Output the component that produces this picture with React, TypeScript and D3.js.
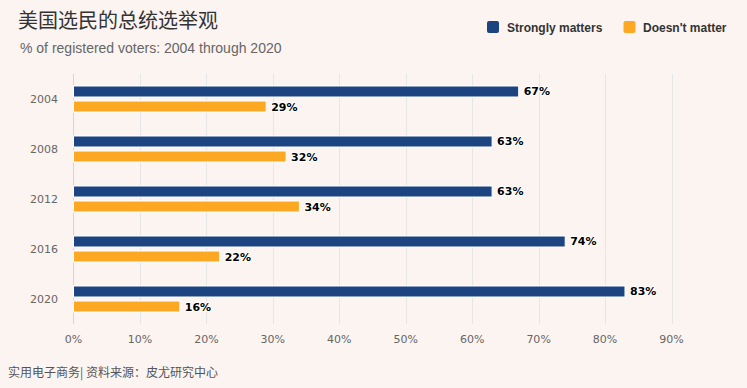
import React, { useEffect } from 'react';
import * as d3 from 'd3';

// chart data
const years = ['2004', '2008', '2012', '2016', '2020'];
const seriesNames = ['Strongly matters', "Doesn't matter"];
const stronglyMatters = [67, 63, 63, 74, 83];
const doesntMatter = [29, 32, 34, 22, 16];
const xTicks = [0, 10, 20, 30, 40, 50, 60, 70, 80, 90];
const colors = ['#1b4480', '#fca822'];

const title = '美国选民的总统选举观';
const subtitle = '% of registered voters: 2004 through 2020';
const footer = '实用电子商务| 资料来源：皮尤研究中心';

const width = 747;
const height = 388;

export default function App() {
  useEffect(() => {
    document.body.style.margin = '0';
  }, []);

  var x = d3.scaleLinear().domain([0, 90]).range([73.5, 671.5]);
  var y = d3.scaleBand().domain(years).range([74, 324]);
  var inner = d3.scaleBand().domain(seriesNames).range([12, 38]).paddingInner(0.2667);
  var values = [stronglyMatters, doesntMatter];

  var sans = '"DejaVu Sans", Verdana, sans-serif';
  var cjk = '"Noto Sans CJK SC", sans-serif';

  return (
    <svg width={width} height={height} style={{ display: 'block', background: '#fbf4f1' }}>
      <rect width={width} height={height} fill="#fbf4f1" />

      <text x={18} y={28} fontFamily={cjk} fontSize={20} fill="#333333">{title}</text>
      <text x={20} y={53} fontFamily='"Liberation Sans", Arial, sans-serif' fontSize={14} fill="#666666">{subtitle}</text>

      {/* legend */}
      <g fontFamily='"Liberation Sans", Arial, sans-serif' fontSize={12} fontWeight="bold" fill="#333333">
        <rect x={487} y={21} width={12} height={12} rx={2} fill={colors[0]} />
        <text x={507} y={31.5}>{seriesNames[0]}</text>
        <rect x={623.5} y={21} width={12} height={12} rx={2} fill={colors[1]} />
        <text x={643} y={31.5}>{seriesNames[1]}</text>
      </g>

      {/* grid */}
      {xTicks.slice(1).map(t => (
        <line key={t} x1={Math.round(x(t)) + 0.5} x2={Math.round(x(t)) + 0.5} y1={74} y2={324} stroke="#e6e6e6" />
      ))}
      <line x1={73.5} x2={73.5} y1={74} y2={324} stroke="#ccd6eb" />

      {/* x tick labels */}
      {xTicks.map(t => (
        <text key={t} x={x(t)} y={343} textAnchor="middle" fontFamily={sans} fontSize={11} fill="#666666">{t}%</text>
      ))}

      {/* category labels */}
      {years.map(yr => (
        <text key={yr} x={58} y={(y(yr) as number) + y.bandwidth() / 2 + 4} textAnchor="end" fontFamily={sans} fontSize={11} fill="#666666">{yr}</text>
      ))}

      {/* bars */}
      {seriesNames.map((s, si) => (
        <g key={s}>
          {years.map((yr, i) => {
            var by = (y(yr) as number) + (inner(s) as number);
            var v = values[si][i];
            return (
              <g key={yr}>
                <rect x={x(0)} y={by} width={x(v) - x(0)} height={inner.bandwidth()} fill={colors[si]} stroke="#ffffff" strokeWidth={1} />
                <text x={x(v) + 5} y={by + inner.bandwidth() / 2 + 4} fontFamily={sans} fontSize={11} fontWeight="bold" fill="#000000" stroke="#ffffff" strokeWidth={2} paintOrder="stroke" strokeLinejoin="round">{v}%</text>
              </g>
            );
          })}
        </g>
      ))}

      <text x={8} y={377} fontFamily={cjk} fontSize={12} fill="#555555">{footer}</text>
    </svg>
  );
}
